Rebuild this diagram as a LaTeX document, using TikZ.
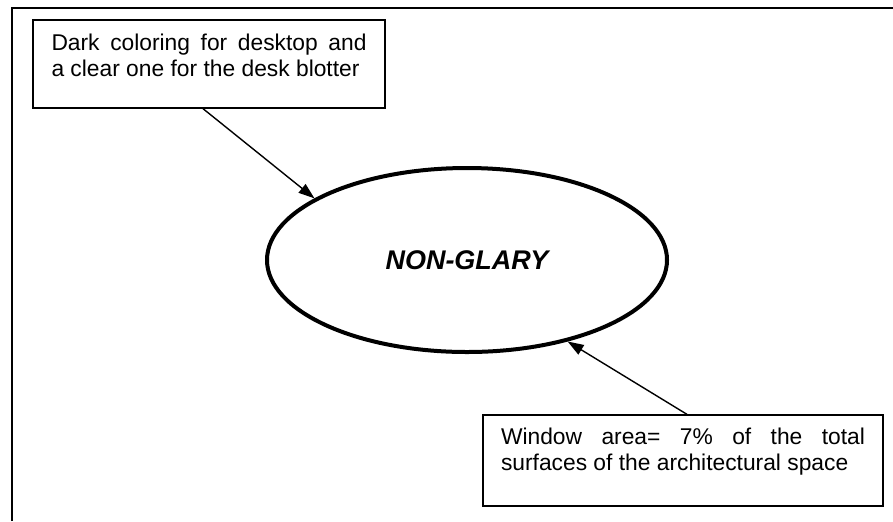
\documentclass[tikz,border=0pt]{standalone}
\usepackage{fontspec}
\setmainfont{Liberation Sans}
\usetikzlibrary{arrows.meta,shapes.geometric}
\begin{document}
\begin{tikzpicture}[x=0.5pt,y=-0.5pt,
  box/.style={draw, line width=0.65pt, inner sep=0pt, rectangle, font=\fontsize{11.4}{13.2}\selectfont},
  conn/.style={line width=0.7pt, -{Triangle[length=8pt,width=5.5pt]}},
  oval/.style={ellipse, draw, line width=2pt, inner sep=0pt, font=\fontsize{13.5}{16}\selectfont\bfseries\itshape}
  ]
\useasboundingbox (0,0) rectangle (893,521);
\draw[line width=0.9pt] (12,521) -- (12,8) -- (893,8);

\node[box, minimum width=176pt, minimum height=44pt] (b1) at (209,64)
  {\parbox[c][44pt][t]{157.5pt}{\rule{0pt}{15pt}\makebox[157.5pt][s]{Dark coloring for desktop and}\\a clear one for the desk blotter}};

\node[oval, minimum width=200pt, minimum height=92pt] (ell) at (467,260) {NON-GLARY};

\node[box, minimum width=200pt, minimum height=45.5pt] (b2) at (683,460.5)
  {\parbox[c][45.5pt][t]{182pt}{\rule{0pt}{14.5pt}\makebox[182pt][s]{Window area= 7\% of the total}\\surfaces of the architectural space}};

\draw[conn] ([xshift=-3pt]b1.south) -- (ell.158);
\draw[conn] ([xshift=2pt]b2.north) -- (ell.321);
\end{tikzpicture}
\end{document}
